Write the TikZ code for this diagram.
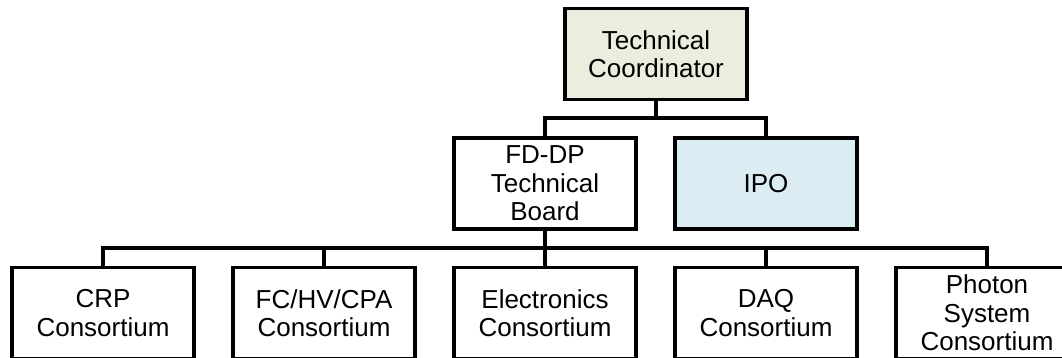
\documentclass[tikz,border=0pt]{standalone}
\usepackage{fontspec}
\setmainfont{Liberation Sans}
\definecolor{coordfill}{RGB}{235,238,222}
\definecolor{ipofill}{RGB}{219,237,243}
\tikzset{
  orgbox/.style={draw=black, line width=3.8pt, rectangle, minimum width=182pt,
    minimum height=91pt, inner sep=0pt, align=center,
    font=\fontsize{26}{28.5}\selectfont},
  link/.style={draw=black, line width=3.8pt}
}
\begin{document}
\begin{tikzpicture}[x=1pt,y=-1pt]
  \useasboundingbox (0,0) rectangle (1062,357);
  % top level
  \node[orgbox, fill=coordfill] (tc) at (656,54) {Technical\\Coordinator};
  % second level
  \node[orgbox] (fd) at (545,183.5) {FD-DP\\Technical\\Board};
  \node[orgbox, fill=ipofill] (ipo) at (766,183.5) {IPO};
  % consortia
  \node[orgbox] (crp) at (103,313) {CRP\\Consortium};
  \node[orgbox] (fc) at (324,313) {FC/HV/CPA\\Consortium};
  \node[orgbox] (el) at (545,313) {Electronics\\Consortium};
  \node[orgbox] (daq) at (766,313) {DAQ\\Consortium};
  \node[orgbox] (ph) at (987,313) {Photon\\System\\Consortium};
  % junctions
  \coordinate (j1) at (656,118);
  \coordinate (j2) at (545,248);
  % connectors
  \draw[link] (tc.south) -- (j1);
  \draw[link] (fd.north) |- (j1) -| (ipo.north);
  \draw[link] (fd.south) -- (j2);
  \foreach \n in {crp,fc,el,daq,ph}
    \draw[link] (j2) -| (\n.north);
\end{tikzpicture}
\end{document}
